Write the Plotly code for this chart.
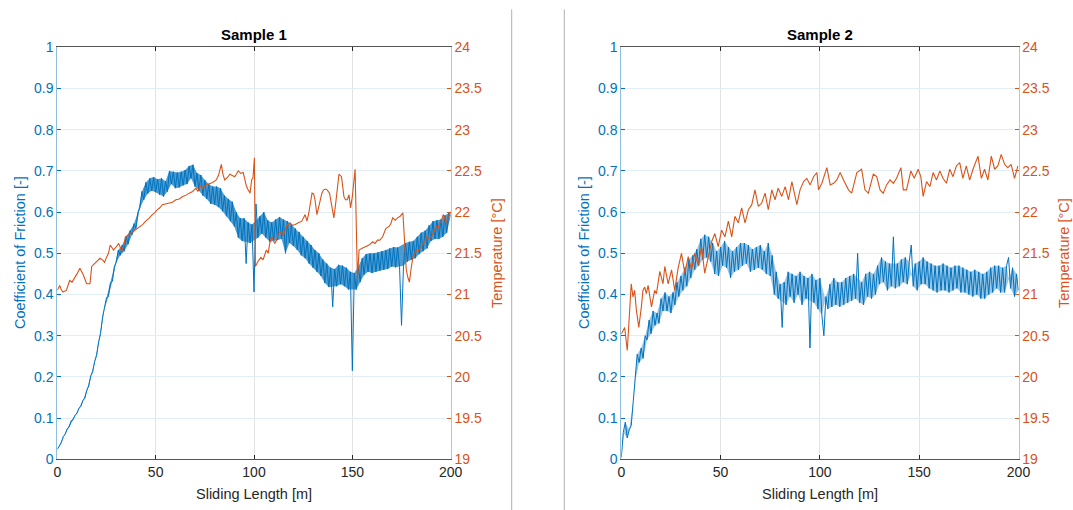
import plotly.graph_objects as go

# ---------------- data ----------------
dist_m = list(range(201))  # sliding length sample positions [m], 1 m step

cof_sample1 = [
    0.024, 0.034, 0.040, 0.055, 0.061, 0.074, 0.078, 0.093, 0.096, 0.107,
    0.111, 0.124, 0.128, 0.143, 0.148, 0.168, 0.178, 0.203, 0.212, 0.238,
    0.252, 0.285, 0.305, 0.345, 0.365, 0.392, 0.395, 0.428, 0.432, 0.468,
    0.478, 0.508, 0.495, 0.520, 0.505, 0.540, 0.522, 0.555, 0.545, 0.572,
    0.560, 0.600, 0.610, 0.650, 0.630, 0.672, 0.645, 0.682, 0.652, 0.685,
    0.648, 0.680, 0.642, 0.682, 0.638, 0.675, 0.650, 0.700, 0.668, 0.698,
    0.658, 0.696, 0.660, 0.698, 0.665, 0.702, 0.668, 0.712, 0.682, 0.715,
    0.662, 0.695, 0.652, 0.690, 0.640, 0.678, 0.632, 0.668, 0.620, 0.662,
    0.618, 0.662, 0.612, 0.658, 0.602, 0.640, 0.590, 0.632, 0.578, 0.625,
    0.565, 0.600, 0.538, 0.585, 0.530, 0.585, 0.475, 0.575, 0.525, 0.570,
    0.406, 0.620,
    0.538, 0.590, 0.548, 0.600, 0.538, 0.580, 0.528, 0.575,
    0.530, 0.582, 0.532, 0.588, 0.535, 0.582, 0.500, 0.578, 0.525, 0.570,
    0.518, 0.560, 0.508, 0.552, 0.495, 0.540, 0.488, 0.530, 0.475, 0.520,
    0.465, 0.508, 0.455, 0.500, 0.445, 0.485, 0.428, 0.475, 0.418, 0.465,
    0.370, 0.462, 0.420, 0.472, 0.425, 0.470, 0.420, 0.465, 0.412, 0.455,
    0.215, 0.452,
    0.412, 0.468, 0.430, 0.488, 0.448, 0.498, 0.455, 0.500,
    0.452, 0.500, 0.455, 0.502, 0.458, 0.505, 0.460, 0.508, 0.462, 0.512,
    0.468, 0.515, 0.466, 0.514, 0.468, 0.325, 0.470, 0.525, 0.480, 0.528,
    0.485, 0.530, 0.488, 0.540, 0.498, 0.550, 0.505, 0.555, 0.512, 0.568,
    0.530, 0.578, 0.535, 0.580, 0.535, 0.582, 0.540, 0.592, 0.550, 0.598,
    0.590,
]
spikes_sample1 = [96, 100, 101, 140, 150, 175]  # isolated spikes (drawn as thin lines)

cof_sample2 = [
    0.004, 0.065, 0.090, 0.052, 0.072, 0.082, 0.140, 0.190, 0.255, 0.235,
    0.270, 0.245, 0.300, 0.290, 0.338, 0.305, 0.360, 0.325, 0.355, 0.330,
    0.390, 0.360, 0.405, 0.360, 0.395, 0.355, 0.405, 0.375, 0.430, 0.395,
    0.445, 0.410, 0.465, 0.420, 0.485, 0.440, 0.495, 0.460, 0.510, 0.470,
    0.535, 0.485, 0.545, 0.490, 0.540, 0.480, 0.525, 0.450, 0.505, 0.445,
    0.515, 0.470, 0.530, 0.465, 0.515, 0.440, 0.505, 0.455, 0.515, 0.460,
    0.525, 0.470, 0.525, 0.475, 0.520, 0.455, 0.510, 0.460, 0.515, 0.465,
    0.520, 0.460, 0.505, 0.450, 0.525, 0.445, 0.495, 0.400, 0.455, 0.390,
    0.425, 0.320, 0.430, 0.375, 0.455, 0.395, 0.450, 0.380, 0.445, 0.400,
    0.455, 0.375, 0.445, 0.390, 0.440, 0.270, 0.450, 0.380, 0.435, 0.365,
    0.440, 0.350, 0.300, 0.395, 0.365, 0.425, 0.370, 0.440, 0.375, 0.430,
    0.370, 0.430, 0.375, 0.440, 0.380, 0.445, 0.385, 0.450, 0.390, 0.500,
    0.380, 0.430, 0.375, 0.450, 0.395, 0.455, 0.390, 0.450, 0.400, 0.470,
    0.425, 0.490, 0.430, 0.480, 0.410, 0.475, 0.420, 0.540, 0.415, 0.475,
    0.420, 0.485, 0.430, 0.490, 0.425, 0.480, 0.520, 0.420, 0.475, 0.410,
    0.480, 0.425, 0.490, 0.425, 0.480, 0.415, 0.475, 0.410, 0.470, 0.405,
    0.470, 0.410, 0.475, 0.410, 0.470, 0.405, 0.465, 0.410, 0.470, 0.415,
    0.470, 0.405, 0.465, 0.405, 0.460, 0.400, 0.455, 0.395, 0.460, 0.400,
    0.455, 0.390, 0.450, 0.390, 0.455, 0.400, 0.465, 0.405, 0.470, 0.415,
    0.470, 0.405, 0.465, 0.405, 0.470, 0.490, 0.415, 0.465, 0.395, 0.450,
    0.410,
]
spikes_sample2 = [81, 95, 102, 119, 137, 146, 195]

temp1_dist = [
    0, 1.2, 2, 2.9, 4.6, 5.5, 6.3, 7.5, 8.9, 10, 11.5, 12.3, 13.2, 14.9, 16.6,
    17.5, 19, 20, 21.7, 23, 24, 25, 26, 26.9, 28.6, 30, 31.2, 32.2, 32.9, 34,
    34.6, 36, 37.2, 38.5, 39.7, 41, 42.3, 43.5, 44.9, 46.5, 48.3, 49.5, 50.9,
    52, 53.4, 55, 56.8, 58.5, 60.3, 62, 63.7, 65, 67.1, 68.8, 70.5, 71.5, 72.5,
    74, 75.5, 77.4, 79, 80.8, 82, 83.4, 84.2, 85.1, 86.5, 87.7, 89, 90.2, 91,
    92, 93.2, 94.5, 95.3, 96.2, 97, 98, 98.8, 99.5, 100.2, 100.7, 102, 103.5,
    104.6, 106.3, 107.2, 108, 109, 110.6, 111.5, 112.3, 113.5, 114.9, 116.6,
    118.3, 119.5, 121, 122.5, 124.3, 126, 126.9, 127.8, 128.6, 129.5, 130.3,
    131, 132, 132.8, 133.7, 134.5, 135.4, 136.3, 137.2, 138.4, 139.2, 139.7,
    140.6, 141.5, 142.3, 143.2, 144.5, 145.2, 145.7, 146.5, 147.4, 148.3,
    149.1, 150, 150.7, 151.4, 152.6, 153.4, 155, 156.8, 158.5, 160.3, 161.5,
    162.8, 164, 165.4, 167, 168.8, 169.6, 170.5, 171.8, 173, 174.3, 175.7,
    176.5, 177.4, 178.3, 179, 179.8, 180.8, 182.5, 183.5, 185, 186.5, 187.7,
    189, 190.2, 191.5, 192.8, 193.6, 194.5, 195.3, 196.2, 197, 197.6, 198.8,
    200,
]
temp1_val = [
    21.05, 21.11, 21.06, 21.03, 21.05, 21.12, 21.17, 21.15, 21.20, 21.25,
    21.32, 21.28, 21.24, 21.13, 21.13, 21.34, 21.38, 21.40, 21.44, 21.42,
    21.39, 21.45, 21.50, 21.60, 21.54, 21.58, 21.62, 21.56, 21.52, 21.62,
    21.70, 21.72, 21.74, 21.76, 21.78, 21.80, 21.83, 21.85, 21.89, 21.92,
    21.97, 21.99, 22.03, 22.05, 22.09, 22.10, 22.11, 22.12, 22.15, 22.16,
    22.19, 22.20, 22.23, 22.25, 22.29, 22.25, 22.32, 22.29, 22.33, 22.35,
    22.36, 22.39, 22.45, 22.58, 22.46, 22.39, 22.42, 22.46, 22.44, 22.43,
    22.46, 22.50, 22.47, 22.48, 22.40, 22.31, 22.27, 22.23, 22.39, 22.42,
    22.66, 21.34, 21.40, 21.45, 21.42, 21.54, 21.50, 21.62, 21.70, 21.62,
    21.66, 21.74, 21.76, 21.72, 21.83, 21.87, 21.84, 21.85, 21.87, 21.89,
    21.97, 21.89, 21.98, 22.11, 22.23, 22.22, 22.15, 21.97, 22.05, 22.15,
    22.23, 22.27, 22.28, 22.27, 22.23, 22.12, 22.03, 21.93, 22.10, 22.31,
    22.46, 22.43, 22.30, 22.19, 22.15, 22.15, 22.21, 22.05, 22.19, 22.35,
    22.52, 21.17, 21.54, 21.56, 21.58, 21.60, 21.64, 21.62, 21.66, 21.66,
    21.70, 21.80, 21.83, 21.86, 21.93, 21.90, 21.93, 21.95, 21.99, 21.60,
    21.30, 21.20, 21.15, 21.30, 21.46, 21.54, 21.53, 21.58, 21.63, 21.70,
    21.68, 21.70, 21.76, 21.83, 21.80, 21.87, 21.90, 21.97, 21.92, 21.87,
    21.95, 21.99,
]

temp2_dist = [
    0, 1.7, 3, 4.2, 5, 5.9, 6.7, 7.6, 8.8, 10.1, 10.9, 11.8, 12.6, 13.5, 15.2,
    16.8, 17.7, 19.4, 21, 21.9, 23.6, 25.3, 26.9, 28.6, 30.3, 32, 33.7, 35.4,
    37, 38.7, 40.4, 42, 43.8, 45.5, 47.1, 48.8, 50.5, 52.2, 53.9, 55.6, 57.2,
    58.9, 60.6, 62.3, 64, 65.7, 67.3, 69, 70.7, 72.4, 74, 75.8, 77.4, 79, 80.8,
    82.5, 84.2, 85.9, 88.4, 90, 91.8, 93.4, 95.1, 96.8, 98.5, 99.3, 101, 103.5,
    105.2, 106.9, 108.5, 110.2, 111.9, 114.4, 116, 118.6, 121, 122.7, 124.4,
    126.9, 128.6, 130.3, 131.9, 133.6, 135.3, 137, 138.6, 140.8, 142, 143.6,
    145.8, 147.5, 149.5, 150.8, 152, 153.7, 155.4, 157, 158.7, 160.4, 162,
    163.7, 165.4, 167, 168.7, 170.4, 172, 173.7, 175.4, 177.1, 179.6, 181.3,
    182.9, 184.6, 186.3, 188, 189.6, 191.3, 193, 194.6, 196.3, 198, 199.7,
]
temp2_val = [
    20.52, 20.60, 20.32, 20.73, 21.13, 20.97, 21.05, 20.81, 20.60, 20.85,
    21.05, 21.09, 21.01, 21.11, 20.85, 21.05, 21.01, 21.28, 21.13, 21.34,
    21.13, 21.30, 21.05, 21.32, 21.50, 21.26, 21.46, 21.30, 21.50, 21.36,
    21.58, 21.26, 21.46, 21.64, 21.74, 21.58, 21.78, 21.70, 21.89, 21.70,
    21.95, 21.87, 22.05, 21.87, 22.03, 22.09, 22.27, 22.07, 22.11, 22.23,
    22.03, 22.27, 22.15, 22.29, 22.19, 22.31, 22.15, 22.37, 22.09, 22.27,
    22.37, 22.41, 22.33, 22.43, 22.48, 22.27, 22.35, 22.54, 22.33, 22.35,
    22.39, 22.48, 22.39, 22.27, 22.23, 22.48, 22.52, 22.27, 22.23, 22.46,
    22.43, 22.27, 22.23, 22.33, 22.39, 22.35, 22.41, 22.54, 22.27, 22.27,
    22.50, 22.41, 22.52, 22.43, 22.19, 22.37, 22.31, 22.48, 22.39, 22.50,
    22.41, 22.35, 22.52, 22.43, 22.56, 22.60, 22.41, 22.56, 22.39, 22.52,
    22.68, 22.41, 22.52, 22.39, 22.68, 22.52, 22.56, 22.70, 22.58, 22.54,
    22.58, 22.41, 22.56,
]

titles = ["Sample 1", "Sample 2"]
x_ticks = [0, 50, 100, 150, 200]
cof_ticks = [0, 0.1, 0.2, 0.3, 0.4, 0.5, 0.6, 0.7, 0.8, 0.9, 1]
cof_tick_text = ["0", "0.1", "0.2", "0.3", "0.4", "0.5", "0.6", "0.7", "0.8", "0.9", "1"]
temp_ticks = [19, 19.5, 20, 20.5, 21, 21.5, 22, 22.5, 23, 23.5, 24]
temp_tick_text = ["19", "19.5", "20", "20.5", "21", "21.5", "22", "22.5", "23", "23.5", "24"]

# ---------------- styling ----------------
W, H = 1073, 510
BLUE = "#0072BD"
ORANGE = "#D95319"
DARK = "#262626"
FONT = "Liberation Sans, Arial, Helvetica, sans-serif"

def px_x(p):
    return p / W

def px_y(p):
    return 1 - p / H

y_dom = [px_y(459.3), px_y(47.3)]
x_doms = [[px_x(57.3), px_x(450.7)], [px_x(621.3), px_x(1018.5)]]

fig = go.Figure()

series = [
    (cof_sample1, spikes_sample1, temp1_dist, temp1_val, "rgba(0,114,189,0.7)"),
    (cof_sample2, spikes_sample2, temp2_dist, temp2_val, "rgba(0,114,189,0.40)"),
]
for i, (cof, spikes, tdist, tval, band_col) in enumerate(series):
    xa = "x" if i == 0 else "x2"
    ya_l = "y" if i == 0 else "y3"
    ya_r = "y2" if i == 0 else "y4"
    d = dist_m[:len(cof)]
    # dense-noise band: area between alternate samples of the same series
    ev = [(x, c) for x, c in zip(d, cof) if x % 2 == 0 and x not in spikes]
    od = [(x, c) for x, c in zip(d, cof) if x % 2 == 1 and x not in spikes]
    fig.add_trace(go.Scatter(x=[p[0] for p in ev], y=[p[1] for p in ev], mode="lines",
                             line=dict(color=band_col, width=0),
                             xaxis=xa, yaxis=ya_l, showlegend=False, hoverinfo="skip"))
    fig.add_trace(go.Scatter(x=[p[0] for p in od], y=[p[1] for p in od], mode="lines",
                             line=dict(color=band_col, width=0), fill="tonexty",
                             fillcolor=band_col,
                             xaxis=xa, yaxis=ya_l, showlegend=False, hoverinfo="skip"))
    fig.add_trace(go.Scatter(x=d, y=cof, mode="lines",
                             line=dict(color=BLUE, width=1),
                             xaxis=xa, yaxis=ya_l, showlegend=False))
    fig.add_trace(go.Scatter(x=tdist, y=tval, mode="lines",
                             line=dict(color=ORANGE, width=1.1),
                             xaxis=xa, yaxis=ya_r, showlegend=False))

common_x = dict(range=[0, 200], tickvals=x_ticks, ticks="inside", ticklen=4,
                tickcolor=DARK, showline=True, linecolor="#555555", linewidth=1,
                mirror="ticks", showgrid=True, gridcolor="#e3e3e3", zeroline=False,
                automargin=False,
                tickfont=dict(family=FONT, size=14, color=DARK), fixedrange=True)
common_yl = dict(range=[0, 1], tickvals=cof_ticks, ticktext=cof_tick_text,
                 ticks="inside", ticklen=4, tickcolor=BLUE, showline=True,
                 linecolor="#8fbfe0", linewidth=1, showgrid=True,
                 gridcolor="#e2edf6", zeroline=False, automargin=False,
                 tickfont=dict(family=FONT, size=14, color=BLUE), domain=y_dom)
common_yr = dict(range=[19, 24], tickvals=temp_ticks, ticktext=temp_tick_text,
                 ticks="inside", ticklen=4, tickcolor=ORANGE, showline=True,
                 linecolor="#f0b49a", linewidth=1, showgrid=False, zeroline=False,
                 side="right", automargin=False,
                 tickfont=dict(family=FONT, size=14, color=ORANGE))

fig.update_layout(
    template="none",
    width=W, height=H, autosize=False,
    margin=dict(l=0, r=0, t=0, b=0, pad=0),
    paper_bgcolor="white", plot_bgcolor="white",
    font=dict(family=FONT),
    xaxis=dict(domain=x_doms[0], anchor="y", **common_x),
    xaxis2=dict(domain=x_doms[1], anchor="y3", **common_x),
    yaxis=dict(anchor="x", **common_yl),
    yaxis2=dict(anchor="x", overlaying="y", **common_yr),
    yaxis3=dict(anchor="x2", **common_yl),
    yaxis4=dict(anchor="x2", overlaying="y3", **common_yr),
)

annotations = []
for i in range(2):
    x0, x1 = x_doms[i]
    xc = (x0 + x1) / 2
    annotations.append(dict(text="<b>%s</b>" % titles[i], x=xc, y=px_y(35),
                            xref="paper", yref="paper", showarrow=False,
                            xanchor="center", yanchor="middle",
                            font=dict(family=FONT, size=15, color="black")))
    annotations.append(dict(text="Sliding Length [m]", x=xc, y=px_y(494),
                            xref="paper", yref="paper", showarrow=False,
                            xanchor="center", yanchor="middle",
                            font=dict(family=FONT, size=14.5, color=DARK)))
    lx = 20 if i == 0 else 584
    rx = 497 if i == 0 else 1064
    annotations.append(dict(text="Coefficient of Friction [-]", x=px_x(lx), y=px_y(253),
                            xref="paper", yref="paper", showarrow=False, textangle=-90,
                            xanchor="center", yanchor="middle",
                            font=dict(family=FONT, size=14.5, color=BLUE)))
    annotations.append(dict(text="Temperature [°C]", x=px_x(rx), y=px_y(253),
                            xref="paper", yref="paper", showarrow=False, textangle=-90,
                            xanchor="center", yanchor="middle",
                            font=dict(family=FONT, size=14.5, color=ORANGE)))
fig.update_layout(annotations=annotations)

shapes = []
for sx in (511.7, 564.3):
    shapes.append(dict(type="line", xref="paper", yref="paper",
                       x0=px_x(sx), x1=px_x(sx), y0=0, y1=px_y(9.5),
                       line=dict(color="#b0b0b0", width=1)))
fig.update_layout(shapes=shapes)

fig.write_html(
    "out.html",
    config={"displayModeBar": False},
    post_script="document.body.style.margin='0';document.body.style.overflow='hidden';",
)
